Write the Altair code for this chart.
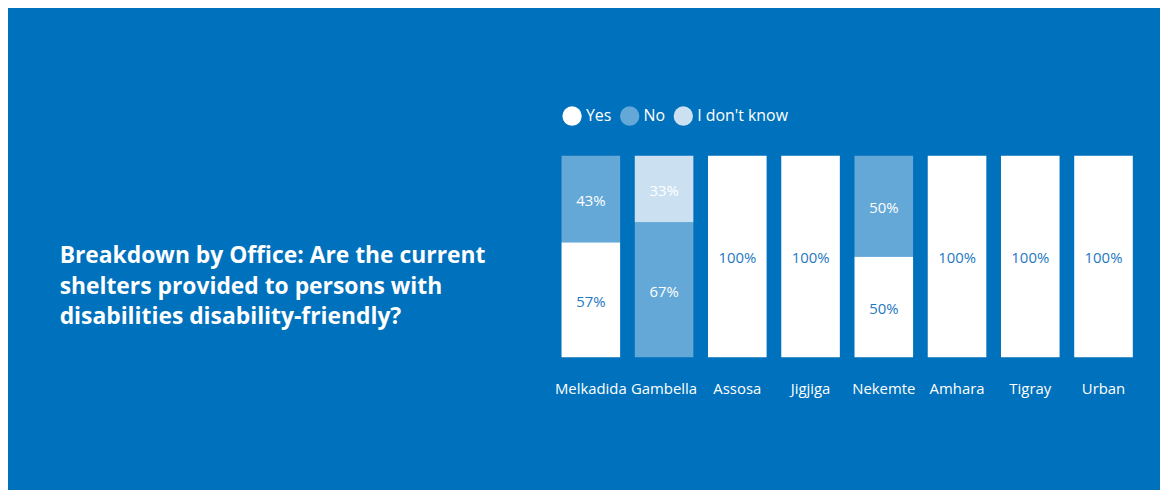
import altair as alt
import pandas as pd

offices = ["Melkadida", "Gambella", "Assosa", "Jigjiga", "Nekemte", "Amhara", "Tigray", "Urban"]
answers = ["Yes", "No", "I don't know"]
yes_pct = [57, 0, 100, 100, 50, 100, 100, 100]
no_pct = [43, 67, 0, 0, 50, 0, 0, 0]
idk_pct = [0, 33, 0, 0, 0, 0, 0, 0]
title_lines = ["Breakdown by Office: Are the current",
               "shelters provided to persons with",
               "disabilities disability-friendly?"]

BG = "#0071BC"
COLORS = ["#FFFFFF", "#64A8D7", "#CBE1F1"]
TEXT_BLUE = "#1E78C2"
FONT = "Open Sans"

rows = []
for i, o in enumerate(offices):
    for k, (a, vals) in enumerate(zip(answers, [yes_pct, no_pct, idk_pct])):
        v = vals[i]
        if v > 0:
            rows.append({"office": o, "answer": a, "value": v, "ord": k,
                         "label": f"{v}%",
                         "tcolor": TEXT_BLUE if a == "Yes" else "#FFFFFF"})
df = pd.DataFrame(rows)

x_enc = alt.X("office:N", sort=offices,
              scale=alt.Scale(paddingInner=0.2, paddingOuter=0.1),
              axis=alt.Axis(title=None, labelAngle=0, ticks=False, domain=False,
                            labelPadding=25, labelColor="#FFFFFF",
                            labelFontSize=15, labelFont=FONT, grid=False))

base = alt.Chart(df)

bars = base.mark_bar().encode(
    x=x_enc,
    y=alt.Y("value:Q", stack="zero",
            scale=alt.Scale(domain=[0, 100], nice=False), axis=None),
    color=alt.Color("answer:N",
                    scale=alt.Scale(domain=answers, range=COLORS),
                    legend=alt.Legend(title=None, orient="none", direction="horizontal",
                                      legendX=8, legendY=-50,
                                      symbolType="circle", symbolSize=380,
                                      symbolStrokeWidth=0, symbolOpacity=1,
                                      labelColor="#FFFFFF", labelFontSize=16,
                                      labelFont=FONT, labelOffset=4,
                                      columnPadding=8)),
    order=alt.Order("ord:Q", sort="ascending"),
)

texts = base.transform_stack(
    stack="value", groupby=["office"], as_=["y0", "y1"],
    sort=[alt.SortField("ord", order="ascending")]
).transform_calculate(
    mid="(datum.y0 + datum.y1) / 2"
).mark_text(fontSize=15, font=FONT, baseline="middle", dy=2).encode(
    x=alt.X("office:N", sort=offices),
    y=alt.Y("mid:Q"),
    text="label:N",
    color=alt.Color("tcolor:N", scale=None),
)

title_df = pd.DataFrame({"t": [title_lines]})
title = alt.Chart(title_df).mark_text(
    align="left", baseline="middle", fontSize=23, fontWeight="bold",
    font=FONT, color="#FFFFFF", lineHeight=31
).encode(
    x=alt.value(-498), y=alt.value(101), text="t"
)

chart = alt.layer(bars, texts, title).properties(
    width=590, height=203,
    background=BG,
    padding={"left": 550, "top": 147, "right": 20, "bottom": 132},
    autosize=alt.AutoSizeParams(type="none"),
).configure_view(stroke=None)

chart.save("out.html", embed_options={"renderer": "svg", "actions": False})
